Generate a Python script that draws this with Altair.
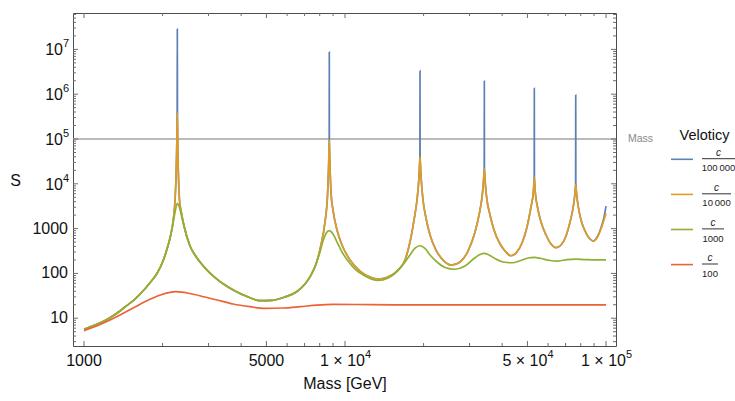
import altair as alt
import pandas as pd

# ---------------- data ----------------
# (mass [GeV], S) pairs for each velocity
blue = [(1000, 5.65), (1102, 7.05), (1204, 8.89), (1315, 12.1), (1436, 17.8), (1568, 26.8), (1683, 40.5),
        (1790, 62), (1904, 99.6), (2008, 189), (2080, 351), (2136, 617), (2199, 1600), (2233, 4345),
        (2254, 16500), (2266, 62000), (2275, 400000), (2278, 28500000), (2281, 400000), (2288, 62000),
        (2300, 16500), (2322, 4345), (2359, 2350), (2417, 1143), (2548, 409), (2662, 258), (2782, 180),
        (2960, 119), (3177, 80.9), (3469, 55.1), (3790, 40.5), (4212, 30.5), (4725, 24.6), (5253, 25.1),
        (5890, 29.7), (6548, 39.5), (7026, 58), (7407, 92), (7743, 162), (8090, 431), (8381, 1403),
        (8570, 5620), (8646, 21000), (8700, 95000), (8706, 8750000), (8712, 95000), (8767, 21000),
        (8852, 5620), (8995, 2600), (9319, 931), (9738, 431), (10452, 199), (11415, 113), (12468, 83.2),
        (13381, 75), (14613, 83.2), (15963, 119), (16976, 199), (17742, 502), (18381, 1556), (18873, 4345),
        (19180, 12800), (19360, 41000), (19380, 3300000), (19400, 41000), (19590, 12800), (19900, 4345),
        (20430, 1726), (21169, 720), (22320, 333), (23950, 189), (25640, 154), (27590, 180), (29600, 316),
        (31490, 839), (32620, 2014), (33490, 5070), (33910, 11000), (34150, 23000), (34180, 1970000),
        (34210, 23000), (34450, 11000), (34870, 5070), (35940, 2014), (37230, 931), (39270, 453),
        (41030, 316), (43140, 248), (45210, 285), (47670, 477), (49810, 1086), (51590, 3036), (52700, 6900),
        (53070, 14500), (53120, 1350000), (53170, 14500), (53540, 6900), (54630, 3036), (56360, 1403),
        (58900, 720), (61560, 453), (64330, 375), (67210, 431), (70270, 684), (72800, 1403), (75080, 3365),
        (75960, 6000), (76480, 10000), (76550, 960000), (76620, 10000), (77160, 6000), (78110, 3365),
        (80200, 1556), (83820, 798), (86840, 586), (89410, 528), (92380, 640), (95680, 1050),
        (98240, 1800), (100000, 3190)]

orange = [(1000, 5.65), (1102, 7.05), (1204, 8.89), (1315, 12.1), (1436, 17.8), (1568, 26.8), (1683, 40.5),
          (1790, 62), (1904, 99.6), (2008, 189), (2080, 351), (2136, 617), (2199, 1600), (2233, 4345),
          (2254, 15700), (2266, 56700), (2278, 380000), (2288, 56700), (2300, 15700), (2322, 4345),
          (2359, 2350), (2417, 1143), (2548, 409), (2662, 258), (2782, 180), (2960, 119), (3177, 80.9),
          (3469, 55.1), (3790, 40.5), (4212, 30.5), (4725, 24.6), (5253, 25.1), (5890, 29.7), (6548, 39.5),
          (7026, 58), (7407, 92), (7743, 162), (8090, 431), (8381, 1403), (8570, 5620), (8646, 20300),
          (8706, 95000), (8767, 20300), (8852, 5620), (8995, 2600), (9319, 931), (9738, 431), (10452, 199),
          (11415, 113), (12468, 83.2), (13381, 75), (14613, 83.2), (15963, 119), (16976, 199), (17742, 502),
          (18381, 1556), (18873, 4345), (19180, 12200), (19380, 40300), (19590, 12200), (19900, 4345),
          (20430, 1726), (21169, 720), (22320, 333), (23950, 189), (25640, 154), (27590, 180), (29600, 316),
          (31490, 839), (32620, 2014), (33490, 5070), (33910, 10400), (34180, 22200), (34450, 10400),
          (34870, 5070), (35940, 2014), (37230, 931), (39270, 453), (41030, 316), (43140, 248), (45210, 285),
          (47670, 477), (49810, 1086), (51590, 3036), (52700, 6560), (53120, 13960), (53540, 6560),
          (54630, 3036), (56360, 1403), (58900, 720), (61560, 453), (64330, 375), (67210, 431), (70270, 684),
          (72800, 1403), (75080, 3365), (75960, 5620), (76550, 9750), (77160, 5620), (78110, 3365),
          (80200, 1556), (83820, 798), (86840, 586), (89410, 528), (92380, 616), (95680, 979), (98240, 1556),
          (100000, 2200)]

green = [(1000, 5.65), (1102, 7.05), (1204, 8.89), (1315, 12.1), (1436, 17.8), (1568, 26.8), (1683, 40.5),
         (1790, 62), (1904, 99.6), (2008, 189), (2080, 351), (2136, 617), (2199, 1403), (2233, 2350),
         (2278, 3670), (2319, 3036), (2375, 1726), (2440, 931), (2548, 409), (2662, 258), (2782, 180),
         (2960, 119), (3177, 80.9), (3469, 55.1), (3790, 40.5), (4212, 30.5), (4725, 24.6), (5253, 25.1),
         (5890, 29.7), (6548, 39.5), (7026, 58), (7407, 92), (7743, 162), (8020, 301), (8234, 528),
         (8455, 778), (8706, 898), (8995, 757), (9319, 502), (9738, 301), (10268, 189), (10922, 125),
         (11930, 87.5), (13381, 69.5), (14613, 78.9), (15963, 116), (16976, 180), (17742, 258), (18544, 369),
         (19380, 415), (20253, 360), (21169, 258), (22515, 180), (24160, 136), (26400, 124), (28830, 146),
         (31210, 215), (32910, 264), (34180, 281), (35620, 258), (37550, 215), (40320, 180), (44030, 173),
         (47670, 199), (50250, 221), (53120, 229), (56360, 215), (61010, 194), (65480, 189), (70900, 204),
         (76550, 209), (83080, 204), (90780, 200), (100000, 200)]

red = [(1000, 5.26), (1152, 7.23), (1374, 11.8), (1568, 17.8), (1790, 26.4), (1990, 33.8), (2252, 39.1),
       (2548, 35.6), (2908, 29.7), (3233, 25.5), (3724, 20.8), (4325, 18.1), (4938, 16.6), (5787, 16.9),
       (6724, 18.1), (7811, 19.7), (8995, 20.4), (12468, 20.1), (25000, 19.8), (50000, 19.8),
       (100000, 19.8)]

series_colors = ["#5E81B5", "#E19C24", "#8FB032", "#EB6235"]
legend_denominators = ["100\u2009000", "10\u2009000", "1000", "100"]
legend_title = "Veloticy"

reference_level = [100000]
reference_label = "Mass"

# tick labels: mantissa part and superscript exponent part
x_tick_values = [1000, 5000, 10000, 50000, 100000]
x_label_base = ["1000", "5000", "1 × 10", "5 × 10", "1 × 10"]
x_label_exp = ["", "", "4", "4", "5"]
x_minor_ticks = [2000, 3000, 4000, 6000, 7000, 8000, 9000, 20000, 30000, 40000, 60000, 70000, 80000, 90000]
y_tick_values = [10, 100, 1000, 10000, 100000, 1000000, 10000000]
y_label_base = ["10", "100", "1000", "10", "10", "10", "10"]
y_label_exp = ["", "", "", "4", "5", "6", "7"]
y_minor_ticks = [3, 4, 5, 6, 7, 8, 9,
                 20, 30, 40, 50, 60, 70, 80, 90,
                 200, 300, 400, 500, 600, 700, 800, 900,
                 2000, 3000, 4000, 5000, 6000, 7000, 8000, 9000,
                 20000, 30000, 40000, 50000, 60000, 70000, 80000, 90000,
                 200000, 300000, 400000, 500000, 600000, 700000, 800000, 900000,
                 2000000, 3000000, 4000000, 5000000, 6000000, 7000000, 8000000, 9000000,
                 20000000, 30000000, 40000000, 50000000, 60000000]

# ---------------- styling ----------------
W, H = 543, 333
FONT = "Liberation Sans"
TXT = "#111111"
TICK = "#6e6e6e"
LBL = 16
EXP = 11
xs = alt.Scale(type="log", domain=[907.6, 109200], nice=False)
ys = alt.Scale(type="log", domain=[2.40, 6.49e7], nice=False)

x_axis = alt.Axis(values=x_tick_values, labels=False, ticks=False, domain=False, grid=False,
                  title="Mass [GeV]", titleFontSize=16, titleFontWeight="normal", titleColor=TXT,
                  titleY=37, titleBaseline="middle")
y_axis = alt.Axis(values=y_tick_values, labels=False, ticks=False, domain=False, grid=False,
                  title="S", titleAngle=0, titleX=-58, titleY=167, titleAlign="center",
                  titleBaseline="middle", titleFontSize=16, titleFontWeight="normal", titleColor=TXT)


def X(field):
    return alt.X(field, scale=xs, axis=x_axis)


def Y(field):
    return alt.Y(field, scale=ys, axis=y_axis)


layers = []

# reference line at S = 1e5
ref_df = pd.DataFrame({"y": reference_level})
layers.append(alt.Chart(ref_df).mark_rule(color="#a3a3a3", strokeWidth=1.6).encode(y=Y("y:Q")))

# curves (drawn blue, orange, green, red so later ones sit on top)
for k, (pts, col) in enumerate(zip([blue, orange, green, red], series_colors)):
    d = pd.DataFrame({"mass": [p[0] for p in pts], "S": [p[1] for p in pts], "i": list(range(len(pts)))})
    layers.append(alt.Chart(d).mark_line(color=col, strokeWidth=1.7, interpolate="monotone",
                                         clip=True).encode(x=X("mass:Q"), y=Y("S:Q"), order="i:Q"))


# frame ticks (inward)
def xticks(vals, length):
    d = pd.DataFrame({"v": vals})
    bot = alt.Chart(d).mark_rule(color=TICK, strokeWidth=1).encode(
        x=X("v:Q"), y=alt.value(H), y2=alt.value(H - length))
    top = alt.Chart(d).mark_rule(color=TICK, strokeWidth=1).encode(
        x=X("v:Q"), y=alt.value(0), y2=alt.value(length))
    return [bot, top]


def yticks(vals, length):
    d = pd.DataFrame({"v": vals})
    left = alt.Chart(d).mark_rule(color=TICK, strokeWidth=1).encode(
        y=Y("v:Q"), x=alt.value(0), x2=alt.value(length))
    right = alt.Chart(d).mark_rule(color=TICK, strokeWidth=1).encode(
        y=Y("v:Q"), x=alt.value(W), x2=alt.value(W - length))
    return [left, right]


layers += xticks(x_tick_values, 5) + xticks(x_minor_ticks, 3)
layers += yticks(y_tick_values, 5) + yticks(y_minor_ticks, 3)

# tick labels as text (with real superscripts)
xl = pd.DataFrame({"v": x_tick_values, "b": x_label_base, "e": x_label_exp})
xl_plain = xl[xl["e"] == ""]
xl_pow = xl[xl["e"] != ""]
layers.append(alt.Chart(xl_plain).mark_text(fontSize=LBL, color=TXT, align="center", baseline="middle").encode(
    x=X("v:Q"), y=alt.value(H + 15), text="b:N"))
layers.append(alt.Chart(xl_pow).mark_text(fontSize=LBL, color=TXT, align="left", baseline="middle",
                                          dx=-25).encode(x=X("v:Q"), y=alt.value(H + 15), text="b:N"))
layers.append(alt.Chart(xl_pow).mark_text(fontSize=EXP, color=TXT, align="left", baseline="middle",
                                          dx=20).encode(x=X("v:Q"), y=alt.value(H + 9), text="e:N"))

yl = pd.DataFrame({"v": y_tick_values, "b": y_label_base, "e": y_label_exp})
yl_plain = yl[yl["e"] == ""]
yl_pow = yl[yl["e"] != ""]
layers.append(alt.Chart(yl_plain).mark_text(fontSize=LBL, color=TXT, align="right", baseline="middle").encode(
    y=Y("v:Q"), x=alt.value(-5), text="b:N"))
layers.append(alt.Chart(yl_pow).mark_text(fontSize=LBL, color=TXT, align="right", baseline="middle",
                                          dy=1).encode(y=Y("v:Q"), x=alt.value(-10), text="b:N"))
layers.append(alt.Chart(yl_pow).mark_text(fontSize=EXP, color=TXT, align="left", baseline="middle",
                                          dy=-5).encode(y=Y("v:Q"), x=alt.value(-10), text="e:N"))

# "Mass" annotation of the reference line
layers.append(alt.Chart(ref_df).mark_text(align="left", baseline="middle", fontSize=10.5,
                                          color="#8a8a8a").encode(
    x=alt.value(555), y=Y("y:Q"), text=alt.value(reference_label)))

# legend
one = pd.DataFrame({"k": [0]})
layers.append(alt.Chart(one).mark_text(fontSize=14.5, color=TXT).encode(
    x=alt.value(631.5), y=alt.value(123), text=alt.value(legend_title)))
bar_widths = [33, 29, 22, 16]
for i, (col, den, bw) in enumerate(zip(series_colors, legend_denominators, bar_widths)):
    sy = 146.3 + 35.1 * i
    cx = 629 + bw / 2
    layers.append(alt.Chart(one).mark_rule(color=col, strokeWidth=1.6).encode(
        x=alt.value(598), x2=alt.value(620), y=alt.value(sy)))
    layers.append(alt.Chart(one).mark_rule(color="#333333", strokeWidth=1).encode(
        x=alt.value(629), x2=alt.value(629 + bw), y=alt.value(sy - 0.6)))
    layers.append(alt.Chart(one).mark_text(fontSize=10, fontStyle="italic", color="#222222").encode(
        x=alt.value(cx), y=alt.value(sy - 6.6), text=alt.value("c")))
    layers.append(alt.Chart(one).mark_text(fontSize=9.5, color="#222222").encode(
        x=alt.value(cx), y=alt.value(sy + 9), text=alt.value(den)))

chart = alt.layer(*layers).properties(
    width=W, height=H,
    padding={"left": 73, "top": 13, "right": 119, "bottom": 55},
    autosize=alt.AutoSizeParams(type="none"),
).configure(font=FONT).configure_view(stroke="#4d4d4d", strokeWidth=1)

chart.save("out.html", embed_options={"renderer": "svg", "actions": False})
